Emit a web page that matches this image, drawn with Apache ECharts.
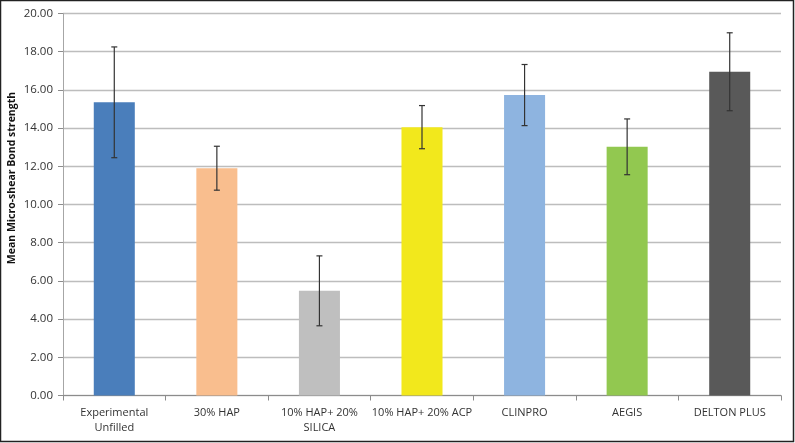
<!DOCTYPE html>
<html>
<head>
<meta charset="utf-8">
<script src="https://cdn.jsdelivr.net/npm/echarts@6/dist/echarts.min.js"></script>
<style>
    html, body { margin: 0; padding: 0; background: #fff; }
    #chart { width: 795px; height: 443px; }
</style>
</head>
<body>
<div id="chart"></div>
<script>
const categories = ['Experimental\nUnfilled', '30% HAP', '10% HAP+ 20%\nSILICA', '10% HAP+ 20% ACP', 'CLINPRO', 'AEGIS', 'DELTON PLUS']
const means = [15.35, 11.9, 5.48, 14.05, 15.73, 13.02, 16.95]
const errors = [2.9, 1.15, 1.83, 1.13, 1.6, 1.46, 2.04]
const barColors = ['#4a7ebb', '#f9be8e', '#bfbfbf', '#f2e81c', '#8eb4e0', '#92c850', '#595959']
const yTicks = { min: 0, max: 20, interval: 2 }
const yTitle = 'Mean Micro-shear Bond strength'

const chartDom = document.getElementById('chart')
const myChart = echarts.init(chartDom)

const errorData = means.map((m, i) => [i, m - errors[i], m + errors[i]])

const option = {
    animation: false,
    graphic: [
        {
            type: 'rect',
            shape: { x: 0.5, y: 0.5, width: 793, height: 441 },
            style: { fill: 'none', stroke: '#222', lineWidth: 1.5 },
            silent: true
        },
        {
            // y axis title, rotated, sits a little above the plot centre like the original
            type: 'text',
            x: 12,
            y: 178,
            rotation: Math.PI / 2,
            style: {
                text: yTitle,
                fill: '#111',
                font: 'bold 10.5px "Open Sans"',
                align: 'center',
                verticalAlign: 'middle'
            },
            silent: true
        }
    ],
    grid: {
        left: 63,
        right: 14,
        top: 13.5,
        bottom: 47.5
    },
    xAxis: {
        type: 'category',
        data: categories,
        axisLine: { lineStyle: { color: '#8c8c8c' } },
        axisTick: { show: true, length: 5, lineStyle: { color: '#8c8c8c' } },
        axisLabel: {
            color: '#333',
            fontFamily: 'Open Sans',
            fontSize: 11,
            lineHeight: 15,
            margin: 10,
            interval: 0
        }
    },
    yAxis: {
        type: 'value',
        min: yTicks.min,
        max: yTicks.max,
        interval: yTicks.interval,
        axisLine: { show: true, lineStyle: { color: '#a6a6a6' } },
        axisTick: { show: true, length: 5, lineStyle: { color: '#8c8c8c' } },
        axisLabel: {
            color: '#333',
            fontFamily: 'Open Sans',
            fontSize: 11.5,
            margin: 10,
            formatter: v => v.toFixed(2)
        },
        splitLine: { lineStyle: { color: '#bdbdbd', width: 1.3 } }
    },
    series: [
        {
            type: 'bar',
            data: means.map((v, i) => ({ value: v, itemStyle: { color: barColors[i] } })),
            barWidth: '40%'
        },
        {
            type: 'custom',
            data: errorData,
            z: 10,
            renderItem: (params, api) => {
                const x = api.coord([api.value(0), api.value(1)])[0]
                const low = api.coord([api.value(0), api.value(1)])[1]
                const high = api.coord([api.value(0), api.value(2)])[1]
                const cap = 3
                const style = { stroke: '#333', lineWidth: 1.2 }
                return {
                    type: 'group',
                    children: [
                        { type: 'line', shape: { x1: x, y1: high, x2: x, y2: low }, style },
                        { type: 'line', shape: { x1: x - cap, y1: high, x2: x + cap, y2: high }, style },
                        { type: 'line', shape: { x1: x - cap, y1: low, x2: x + cap, y2: low }, style }
                    ]
                }
            }
        }
    ]
}

myChart.setOption(option)
</script>
</body>
</html>
